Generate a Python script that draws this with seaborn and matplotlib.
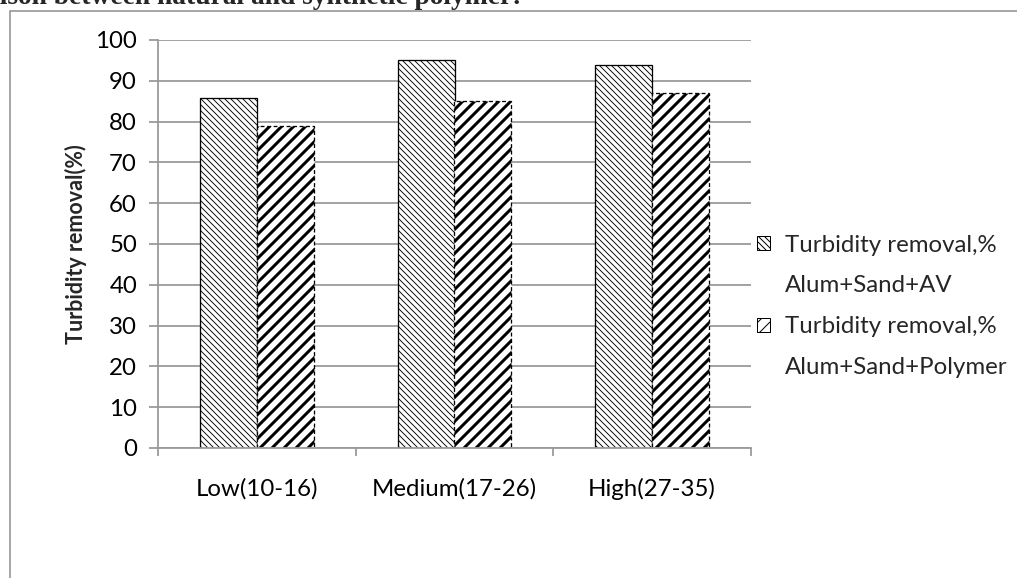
import matplotlib
matplotlib.use("Agg")
import matplotlib.pyplot as plt
from matplotlib.patches import Rectangle, Patch
from matplotlib.ticker import FixedLocator, MultipleLocator
import seaborn as sns
import pandas as pd

# Turbidity levels (NTU ranges) and removal efficiency for each treatment
levels = ["Low(10-16)", "Medium(17-26)", "High(27-35)"]
series_names = ["Turbidity removal,%\nAlum+Sand+AV",
                "Turbidity removal,%\nAlum+Sand+Polymer"]
removal_av = [85.8, 95.2, 93.9]
removal_polymer = [78.8, 85.1, 87.0]
y_ticks = list(range(0, 101, 10))

df = pd.DataFrame({
    "level": levels * 2,
    "series": [series_names[0]] * 3 + [series_names[1]] * 3,
    "removal": removal_av + removal_polymer,
})

sns.set_style("white")
plt.rcParams["font.family"] = ["Lato", "DejaVu Sans"]

DPI = 72
FS = 24
fig = plt.figure(figsize=(1017 / DPI, 578 / DPI), dpi=DPI)
ax = fig.add_axes([158 / 1017, 1 - 448 / 578, 593 / 1017, 408 / 578])

sns.barplot(data=df, x="level", y="removal", hue="series",
            hue_order=series_names, order=levels, width=0.576,
            ax=ax, legend=False, errorbar=None, saturation=1)

grid_c = "#9a9a9a"
styles = [
    dict(hatch="\\\\\\\\", hlw=0.9, ls="-"),
    dict(hatch="//", hlw=3.0, ls=(0, (3, 2))),
]
for cont, st in zip(ax.containers, styles):
    for bar in cont:
        bar.set_facecolor("white")
        bar.set_edgecolor("black")
        bar.set_linewidth(1.3)
        bar.set_linestyle(st["ls"])
        bar.set_hatch(st["hatch"])
        if hasattr(bar, "set_hatch_linewidth"):
            bar.set_hatch_linewidth(st["hlw"])

ax.set_ylim(0, 100)
ax.set_xlim(-0.5, 2.5)
ax.yaxis.set_major_locator(FixedLocator(y_ticks))
ax.set_axisbelow(True)
ax.grid(axis="y", color=grid_c, linewidth=1.8)
ax.grid(axis="x", visible=False)

for side in ["top", "right"]:
    ax.spines[side].set_visible(False)
for side in ["left", "bottom"]:
    ax.spines[side].set_color(grid_c)
    ax.spines[side].set_linewidth(1.8)

ax.tick_params(axis="y", which="major", length=9, width=1.8, color=grid_c,
               labelsize=FS, pad=12, labelcolor="black", left=True)
ax.xaxis.set_minor_locator(MultipleLocator(1, offset=0.5))
ax.tick_params(axis="x", which="major", length=0, labelsize=FS, pad=30,
               labelcolor="black")
ax.tick_params(axis="x", which="minor", length=8, width=1.8, color=grid_c,
               bottom=True, direction="out")

ax.set_xlabel("")
ax.set_ylabel("Turbidity removal(%)", fontsize=21.5, fontweight="bold",
              labelpad=8)

# Legend: hatched swatch beside the first line of each two-line label
handles, labels = [], []
for cont, name in zip(ax.containers, series_names):
    b = cont[0]
    h = Patch(facecolor="white", edgecolor="black", hatch=b.get_hatch(),
              linewidth=1.0)
    first, second = name.split("\n")
    handles += [h, Patch(visible=False)]
    labels += [first, second]
leg = ax.legend(handles, labels, loc="center left",
                bbox_to_anchor=(1.01, 0.347), frameon=False, fontsize=FS,
                handlelength=0.55, handleheight=0.55, handletextpad=0.6,
                labelspacing=0.83, borderpad=0, borderaxespad=0)

# Outer chart border and the caption running above it
fig.patches.append(Rectangle((9.5 / 1017, -0.05), 1.2, 1 - 11 / 578 + 0.05,
                             transform=fig.transFigure, fill=False,
                             edgecolor="#8c8c8c", linewidth=1.5))
fig.text(522 / 1017, 1 - 4 / 578,
         "Comparison between natural and synthetic polymer:",
         ha="right", va="baseline", fontsize=27.5, fontweight="bold",
         family=["Liberation Serif", "DejaVu Serif"])

fig.savefig("out.png", dpi=DPI)
